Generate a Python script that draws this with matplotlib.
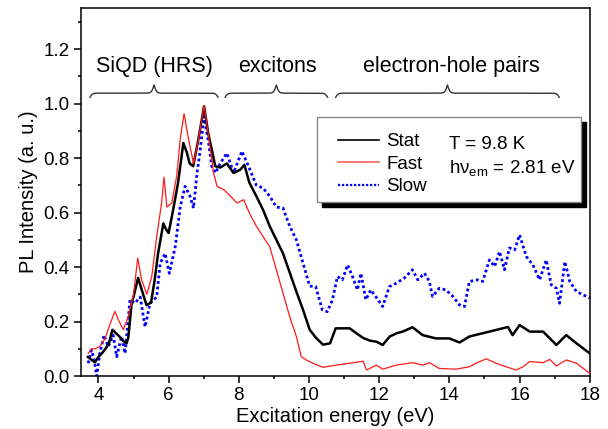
import numpy as np
import matplotlib
matplotlib.use("Agg")
import matplotlib.pyplot as plt
from matplotlib.patches import Rectangle
from matplotlib.ticker import MultipleLocator

plt.rcParams['font.family'] = ['Liberation Sans', 'DejaVu Sans']
plt.rcParams['mathtext.fontset'] = 'custom'
plt.rcParams['mathtext.rm'] = 'Liberation Sans'

# ---------------- data ----------------
stat_e = [3.7, 3.8, 3.9, 4.0, 4.1, 4.2, 4.3, 4.4, 4.5, 4.6, 4.7, 4.8, 4.85, 4.95, 5.0,
          5.13, 5.25, 5.37, 5.5, 5.6, 5.7, 5.85, 5.92, 6.0, 6.13, 6.27, 6.42, 6.52, 6.6,
          6.7, 6.85, 7.01, 7.13, 7.24, 7.33, 7.47, 7.66, 7.85, 8.04, 8.16, 8.3, 8.5, 8.69,
          8.88, 9.07, 9.26, 9.45, 9.64, 9.83, 10.02, 10.2, 10.4, 10.6, 10.76, 10.97, 11.16,
          11.35, 11.54, 11.73, 11.92, 12.1, 12.3, 12.5, 12.67, 12.95, 13.24, 13.62, 14.0,
          14.29, 14.57, 14.95, 15.33, 15.67, 15.8, 16.0, 16.29, 16.67, 17.05, 17.33, 17.62, 18.0]
stat_v = [0.07, 0.06, 0.05, 0.07, 0.083, 0.10, 0.12, 0.17, 0.157, 0.145, 0.13, 0.12, 0.14, 0.27, 0.29,
          0.36, 0.31, 0.26, 0.27, 0.35, 0.45, 0.56, 0.54, 0.525, 0.61, 0.71, 0.855, 0.82, 0.78,
          0.77, 0.87, 0.99, 0.89, 0.825, 0.77, 0.765, 0.78, 0.745, 0.757, 0.775, 0.71, 0.66, 0.61,
          0.55, 0.50, 0.45, 0.38, 0.31, 0.243, 0.17, 0.14, 0.115, 0.12, 0.175, 0.175, 0.175,
          0.157, 0.14, 0.13, 0.126, 0.114, 0.145, 0.157, 0.163, 0.179, 0.15, 0.138, 0.138,
          0.123, 0.145, 0.157, 0.169, 0.18, 0.15, 0.187, 0.163, 0.163, 0.114, 0.15, 0.12, 0.083]

fast_e = [3.71, 3.8, 3.9, 4.04, 4.19, 4.33, 4.47, 4.57, 4.71, 4.85, 5.0, 5.12, 5.23, 5.38,
          5.52, 5.66, 5.8, 5.87, 5.95, 6.09, 6.23, 6.33, 6.44, 6.57, 6.71, 6.85, 7.01, 7.14,
          7.28, 7.38, 7.57, 7.76, 7.95, 8.14, 8.3, 8.5, 8.69, 8.88, 9.07, 9.26, 9.45, 9.64,
          9.78, 9.92, 10.11, 10.4, 10.78, 11.16, 11.48, 11.54, 11.64, 11.92, 12.1, 12.48,
          12.95, 13.24, 13.43, 13.71, 14.19, 14.57, 14.76, 15.05, 15.33, 15.62, 15.9, 16.1,
          16.29, 16.67, 16.86, 17.05, 17.33, 17.62, 18.0]
fast_v = [0.083, 0.10, 0.10, 0.108, 0.138, 0.19, 0.237, 0.206, 0.17, 0.218, 0.30, 0.433, 0.353, 0.30,
          0.365, 0.51, 0.635, 0.73, 0.62, 0.635, 0.733, 0.868, 0.963, 0.868, 0.78, 0.868, 0.993, 0.88,
          0.745, 0.696, 0.684, 0.66, 0.635, 0.647, 0.598, 0.55, 0.512, 0.475, 0.39, 0.304, 0.218, 0.145,
          0.071, 0.059, 0.047, 0.032, 0.04, 0.047, 0.053, 0.055, 0.022, 0.04, 0.025, 0.04,
          0.049, 0.04, 0.049, 0.028, 0.025, 0.034, 0.047, 0.063, 0.047, 0.034, 0.022, 0.034,
          0.053, 0.049, 0.061, 0.037, 0.059, 0.047, 0.01]

slow_e = [3.71, 3.8, 3.88, 3.95, 4.04, 4.16, 4.28, 4.42, 4.52, 4.66, 4.76, 4.9, 5.04, 5.19,
          5.33, 5.47, 5.66, 5.76, 5.9, 6.02, 6.19, 6.33, 6.47, 6.61, 6.71, 6.8, 6.9, 7.01, 7.14,
          7.23, 7.33, 7.47, 7.66, 7.85, 8.09, 8.3, 8.5, 8.69, 8.88, 9.07, 9.26, 9.45, 9.64, 9.83,
          10.02, 10.19, 10.38, 10.52, 10.67, 10.81, 10.95, 11.1, 11.24, 11.38, 11.48, 11.62,
          11.76, 11.9, 12.1, 12.29, 12.48, 12.71, 12.95, 13.1, 13.29, 13.43, 13.52, 13.71, 13.9,
          14.1, 14.29, 14.43, 14.57, 14.81, 14.95, 15.14, 15.29, 15.43, 15.57, 15.71, 15.86, 16.0,
          16.19, 16.38, 16.57, 16.76, 16.9, 17.05, 17.14, 17.29, 17.43, 17.62, 17.81, 18.0]
slow_v = [0.047, 0.095, 0.06, 0.0, 0.083, 0.15, 0.108, 0.15, 0.071, 0.145, 0.083, 0.28, 0.267, 0.29,
          0.18, 0.267, 0.29, 0.414, 0.45, 0.377, 0.475, 0.62, 0.696, 0.66, 0.616, 0.733, 0.83, 0.953, 0.855,
          0.77, 0.745, 0.78, 0.818, 0.745, 0.825, 0.763, 0.70, 0.69, 0.66, 0.62, 0.616, 0.55, 0.50, 0.414,
          0.33, 0.328, 0.243, 0.236, 0.28, 0.365, 0.353, 0.408, 0.365, 0.316, 0.377, 0.28,
          0.316, 0.292, 0.255, 0.328, 0.34, 0.359, 0.39, 0.353, 0.377, 0.347, 0.292, 0.322, 0.316,
          0.292, 0.261, 0.255, 0.347, 0.353, 0.347, 0.426, 0.402, 0.457, 0.39, 0.47, 0.463, 0.518,
          0.439, 0.408, 0.353, 0.426, 0.335, 0.322, 0.267, 0.42, 0.347, 0.31, 0.298, 0.286]

region_labels = ['SiQD (HRS)', 'excitons', 'electron-hole pairs']
region_start = [3.76, 7.61, 10.76]
region_end = [7.41, 10.53, 17.13]
region_label_x = [5.6, 9.09, 14.07]

# ---------------- figure ----------------
fig = plt.figure(figsize=(6.08, 4.29), dpi=100)
ax = fig.add_axes([0.133, 0.1235, 0.837, 0.8575])

ax.plot(slow_e, slow_v, color='#0000ff', lw=2.0, linestyle=(0, (1, 1.0)), label='Slow', zorder=2)
ax.plot(stat_e, stat_v, color='black', lw=1.8, label='Stat', zorder=3)
ax.plot(fast_e, fast_v, color='#ff1a1a', lw=0.9, label='Fast', zorder=4)

ax.set_xlim(3.5, 18)
ax.set_ylim(0, 1.35)
ax.xaxis.set_major_locator(MultipleLocator(2))
ax.xaxis.set_minor_locator(MultipleLocator(1))
ax.yaxis.set_major_locator(MultipleLocator(0.2))
ax.yaxis.set_minor_locator(MultipleLocator(0.1))
ax.yaxis.set_major_formatter(plt.FuncFormatter(lambda v, p: f'{v:.1f}'))
ax.tick_params(which='major', direction='out', length=5, width=1.1, labelsize=13.5, pad=3)
ax.tick_params(which='minor', direction='out', length=2.5, width=1.1)
for s in ax.spines.values():
    s.set_linewidth(1.1)

ax.set_xlabel('Excitation energy (eV)', fontsize=14.5, labelpad=2)
ax.set_ylabel('PL Intensity (a. u.)', fontsize=14.5, labelpad=4)

# braces and region labels
def brace(x0, x1, yline, beta=28.0, down=0.015, up=0.03):
    n = 401
    x = np.linspace(x0, x1, n)
    xh = x[:n // 2 + 1]
    yh = 1 / (1 + np.exp(-beta * (xh - xh[0]))) + 1 / (1 + np.exp(-beta * (xh - xh[-1])))
    y = np.concatenate((yh, yh[-2::-1]))
    y = np.where(y < 1, yline + (y - 1) * 2 * down, yline + (y - 1) * 2 * up)
    return x, y

for lab, a, b, xc in zip(region_labels, region_start, region_end, region_label_x):
    bx, by = brace(a, b, 1.038)
    ax.plot(bx, by, color='#333333', lw=1.0, zorder=5)
    ax.text(xc, 1.135, lab, ha='center', va='center', fontsize=15.5)

# legend box with shadow
sh = Rectangle((0.464 + 5 / 509, 0.473 - 5 / 368), 0.518, 0.231, transform=ax.transAxes,
               facecolor='black', edgecolor='black', zorder=6)
box = Rectangle((0.464, 0.473), 0.518, 0.231, transform=ax.transAxes,
                facecolor='white', edgecolor='#888888', lw=1.0, zorder=7)
ax.add_patch(sh)
ax.add_patch(box)

h_stat, = ax.plot([], [], color='black', lw=1.2)
h_fast, = ax.plot([], [], color='#ff6060', lw=1.2)
h_slow, = ax.plot([], [], color='#0000ff', lw=1.6, linestyle=(0, (1, 0.8)))
leg = ax.legend([h_stat, h_fast, h_slow], ['Stat', 'Fast', 'Slow'],
                loc='upper left', bbox_to_anchor=(0.505, 0.66), frameon=False,
                fontsize=13.5, handlelength=2.2, handletextpad=0.4, labelspacing=0.28,
                borderpad=0, borderaxespad=0)
leg.set_zorder(8)

ax.text(0.724, 0.628, 'T = 9.8 K', transform=ax.transAxes, ha='left', va='center',
        fontsize=13.5, zorder=9)
ax.text(0.724, 0.562, r'hν$_{\mathregular{em}}$ = 2.81 eV', transform=ax.transAxes, ha='left',
        va='center', fontsize=13.5, zorder=9)

fig.savefig('out.png', dpi=100)
